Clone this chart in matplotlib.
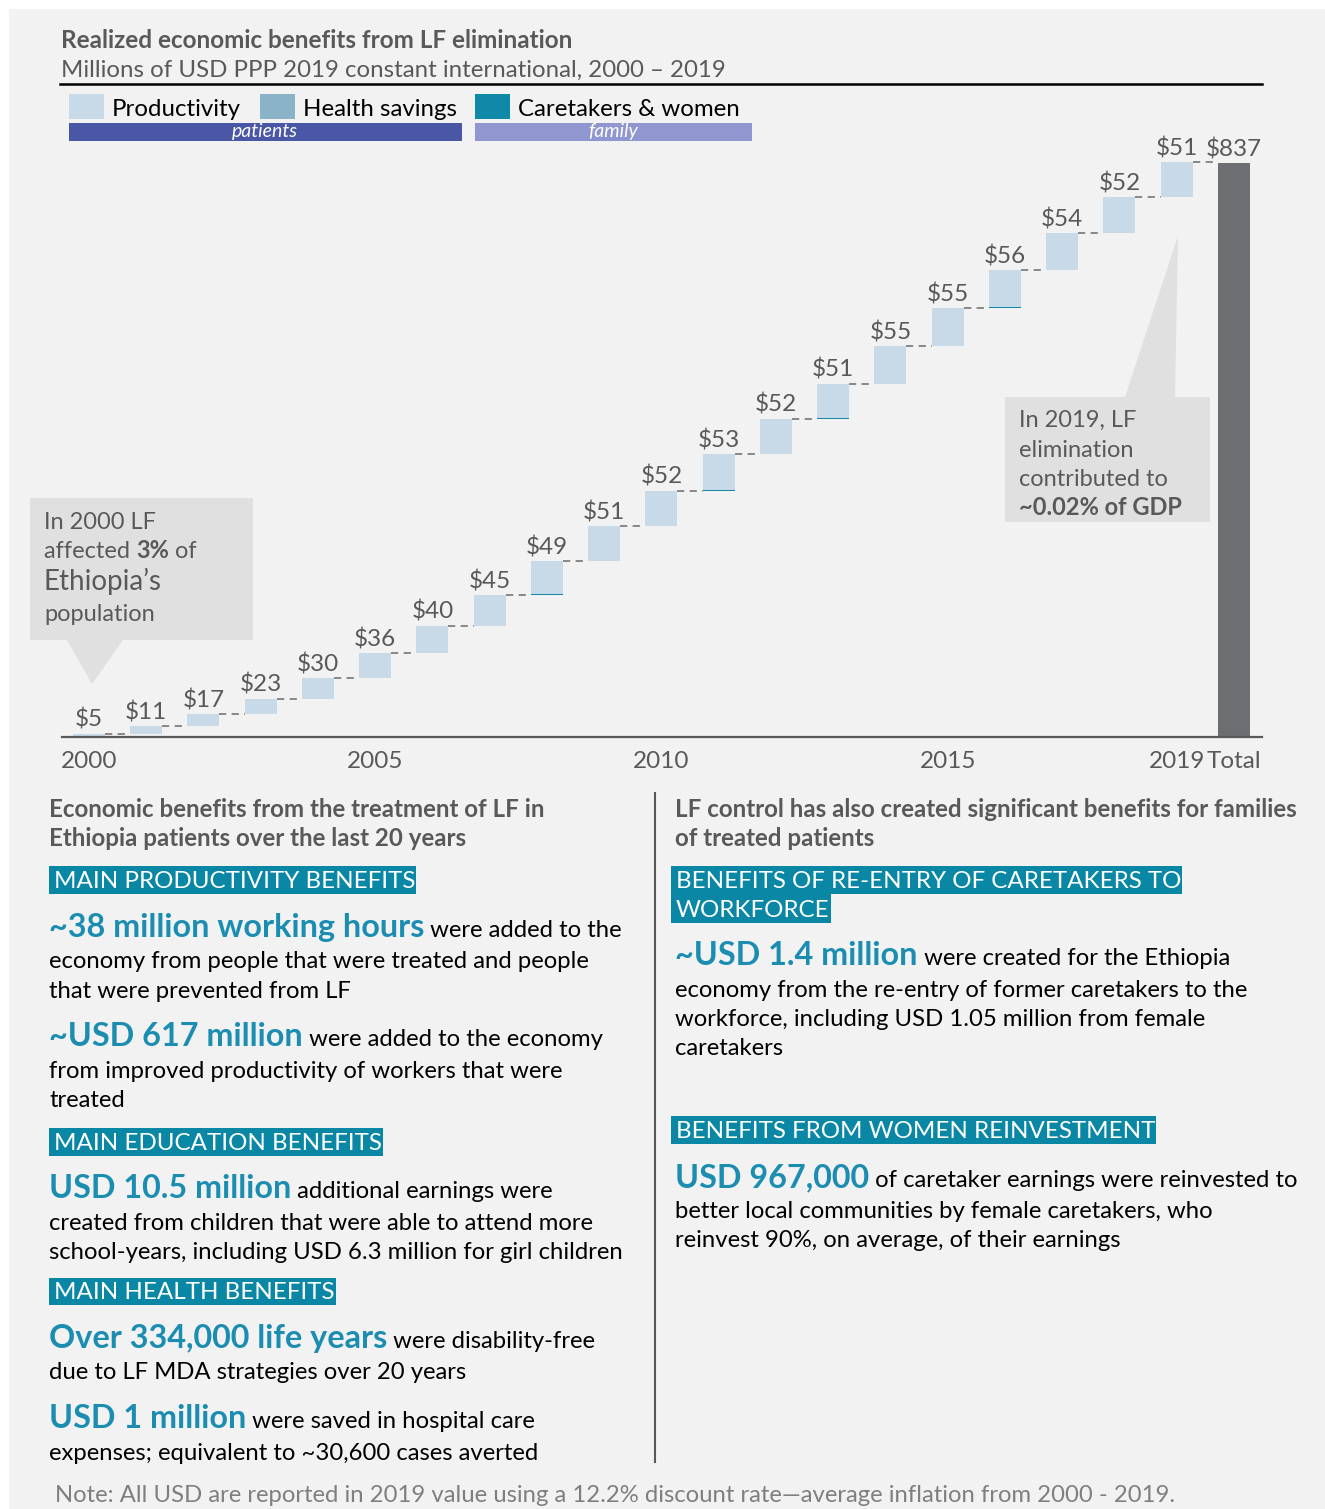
import matplotlib
matplotlib.use("Agg")
import matplotlib.pyplot as plt
from matplotlib.patches import Rectangle, Polygon
import numpy as np

# ---------------- data ----------------
years = ['2000', '2001', '2002', '2003', '2004', '2005', '2006', '2007', '2008', '2009',
         '2010', '2011', '2012', '2013', '2014', '2015', '2016', '2017', '2018', '2019']
annual_totals = [5, 11, 17, 23, 30, 36, 40, 45, 49, 51, 52, 53, 52, 51, 55, 55, 56, 54, 52, 51]
caretakers_women = [0, 0, 0, 0, 0, 0, 0, 0, 1.5, 0, 0, 1.5, 0, 1.5, 0, 0, 1.5, 0, 0, 0]
health_savings = [0] * 20
grand_total = 837
tick_positions = [0, 5, 10, 15, 19, 20]
tick_labels = ['2000', '2005', '2010', '2015', '2019', 'Total']

productivity = [t - h - c for t, h, c in zip(annual_totals, health_savings, caretakers_women)]

# ---------------- style ----------------
W, H = 1325, 1509
DPI = 100
BG = '#f2f2f2'
GREY = '#595959'
TEAL = '#0b87a6'
BIG = '#1b8db1'
C_PROD = '#c8dae8'
C_HEALTH = '#8bb3c8'
C_CARE = '#1089a8'
C_TOTAL = '#6d6e71'
FONT = ['Lato', 'DejaVu Sans']
plt.rcParams['font.family'] = FONT

fig = plt.figure(figsize=(W / DPI, H / DPI), dpi=DPI, facecolor='white')

# overlay axes in pixel coordinates (behind chart)
ov = fig.add_axes([0, 0, 1, 1], zorder=0)
ov.set_xlim(0, W)
ov.set_ylim(H, 0)
ov.axis('off')
ov.add_patch(Rectangle((9, 9), W - 9, H - 9, facecolor=BG, edgecolor='none', zorder=0))

# ---------------- chart axes ----------------
base_px, top_px = 737, 150
left_px, right_px = 62, 1262
scale = 574 / 837.0
ax = fig.add_axes([left_px / W, (H - base_px) / H, (right_px - left_px) / W, (base_px - top_px) / H], zorder=2)
ax.set_facecolor('none')
ax.set_xlim(-0.47, 20.49)
ax.set_ylim(0, (base_px - top_px) / scale)

bw = 0.56
x = np.arange(len(years))
bottoms = np.concatenate([[0], np.cumsum(annual_totals)[:-1]])
b = bottoms.copy().astype(float)
ax.bar(x, caretakers_women, bw, bottom=b, color=C_CARE, linewidth=0)
b = b + np.array(caretakers_women)
ax.bar(x, health_savings, bw, bottom=b, color=C_HEALTH, linewidth=0)
b = b + np.array(health_savings)
ax.bar(x, productivity, bw, bottom=b, color=C_PROD, linewidth=0)
ax.bar([20], [grand_total], bw, color=C_TOTAL, linewidth=0)

tops = np.cumsum(annual_totals)
for i in range(len(years)):
    x0 = i + bw / 2
    x1 = i + 1 - bw / 2
    ax.plot([x0, x1], [tops[i], tops[i]], color='#7f7f7f', lw=1.3, dashes=(4, 3))
    ax.annotate(f'${annual_totals[i]}', (i, tops[i]), xytext=(0, 5), textcoords='offset points',
                ha='center', va='baseline', fontsize=17.5, color=GREY)
ax.annotate(f'${grand_total}', (20, grand_total), xytext=(0, 5), textcoords='offset points',
            ha='center', va='baseline', fontsize=17.5, color=GREY)

for s in ['top', 'right', 'left']:
    ax.spines[s].set_visible(False)
ax.spines['bottom'].set_color(GREY)
ax.spines['bottom'].set_linewidth(1.6)
ax.set_yticks([])
ax.set_xticks(tick_positions)
ax.set_xticklabels(tick_labels)
ax.tick_params(axis='x', length=0, pad=10, labelsize=17.5, labelcolor=GREY)

# ---------------- header ----------------
ov.text(61, 48, 'Realized economic benefits from LF elimination', fontsize=17.5, fontweight='bold',
        color=GREY, va='baseline')
ov.text(61, 77, 'Millions of USD PPP 2019 constant international, 2000 \u2013 2019', fontsize=17.3,
        color=GREY, va='baseline')
ov.plot([60, 1262], [84, 84], color='black', lw=1.8)

# legend
legend_items = [(69, C_PROD, 'Productivity'), (260, C_HEALTH, 'Health savings'), (475, C_CARE, 'Caretakers & women')]
for lx, col, lab in legend_items:
    ov.add_patch(Rectangle((lx, 94), 35, 25, facecolor=col, edgecolor='none'))
    ov.text(lx + 43, 116, lab, fontsize=17.3, color='black', va='baseline')
ov.add_patch(Rectangle((69, 123), 393, 18, facecolor='#4a56a6', edgecolor='none'))
ov.text(265, 132, 'patients', fontsize=14, style='italic', color='white', ha='center', va='center')
ov.add_patch(Rectangle((475, 123), 277, 18, facecolor='#8f96d0', edgecolor='none'))
ov.text(613, 132, 'family', fontsize=14, style='italic', color='white', ha='center', va='center')

# ---------------- callouts ----------------
CALL = '#e0e0e0'
ov.add_patch(Polygon([(30, 498), (253, 498), (253, 640), (123, 640), (92, 684), (67, 640), (30, 640)],
                     closed=True, facecolor=CALL, edgecolor='none', zorder=1))
ov.add_patch(Polygon([(1005, 397), (1125, 397), (1178, 236), (1175, 397), (1210, 397), (1210, 522), (1005, 522)],
                     closed=True, facecolor=CALL, edgecolor='none', zorder=1))

fig.canvas.draw()
renderer = fig.canvas.get_renderer()
inv = ov.transData.inverted()


def right_edge(t):
    bb = t.get_window_extent(renderer)
    return inv.transform((bb.x1, bb.y0))[0]


def runs(x0, y, parts, **common):
    """parts: list of (text, kwargs)"""
    cx = x0
    for s, kw in parts:
        kk = dict(common)
        kk.update(kw)
        t = ov.text(cx, y, s, va='baseline', zorder=3, **kk)
        cx = right_edge(t)
    return cx


CS = 17
runs(44, 529, [('In 2000 LF', {})], fontsize=CS, color=GREY)
runs(44, 558, [('affected ', {}), ('3%', {'fontweight': 'bold'}), (' of', {})], fontsize=CS, color=GREY)
runs(44, 590, [('Ethiopia\u2019s', {})], fontsize=20, color=GREY)
runs(44, 621, [('population', {})], fontsize=CS, color=GREY)

runs(1019, 427, [('In 2019, LF', {})], fontsize=CS, color=GREY)
runs(1019, 457, [('elimination', {})], fontsize=CS, color=GREY)
runs(1019, 486, [('contributed to', {})], fontsize=CS, color=GREY)
runs(1019, 515, [('~0.02% of GDP', {'fontweight': 'bold'})], fontsize=CS, color=GREY)

# ---------------- lower section ----------------
ov.plot([655, 655], [793, 1462], color=GREY, lw=1.5)

BODY = 17.2
BIGS = 23.3
HEAD = 17.4
BOX = 17.4


def heading_box(x0, y_top, y_bot, s):
    t = ov.text(x0 + 5, y_bot - 6, s, fontsize=BOX, color='white', va='baseline', zorder=3)
    xr = right_edge(t)
    ov.add_patch(Rectangle((x0, y_top), xr + 1 - x0, y_bot - y_top, facecolor=TEAL, edgecolor='none', zorder=2))


def lead_line(x0, y, big, rest):
    runs(x0, y, [(big, {'fontsize': BIGS, 'fontweight': 'bold', 'color': BIG}),
                 (' ' + rest, {'fontsize': BODY, 'color': 'black'})])


def body(x0, y, s):
    ov.text(x0, y, s, fontsize=BODY, color='black', va='baseline', zorder=3)


LX = 49
ov.text(LX, 817, 'Economic benefits from the treatment of LF in', fontsize=HEAD, fontweight='bold', color=GREY, va='baseline')
ov.text(LX, 846, 'Ethiopia patients over the last 20 years', fontsize=HEAD, fontweight='bold', color=GREY, va='baseline')
heading_box(LX, 866, 894, 'MAIN PRODUCTIVITY BENEFITS')
lead_line(LX, 937, '~38 million working hours', 'were added to the')
body(LX, 968, 'economy from people that were treated and people')
body(LX, 998, 'that were prevented from LF')
lead_line(LX, 1046, '~USD 617 million', 'were added to the economy')
body(LX, 1078, 'from improved productivity of workers that were')
body(LX, 1107, 'treated')
heading_box(LX, 1128, 1156, 'MAIN EDUCATION BENEFITS')
lead_line(LX, 1198, 'USD 10.5 million', 'additional earnings were')
body(LX, 1230, 'created from children that were able to attend more')
body(LX, 1259, 'school-years, including USD 6.3 million for girl children')
heading_box(LX, 1278, 1305, 'MAIN HEALTH BENEFITS')
lead_line(LX, 1348, 'Over 334,000 life years', 'were disability-free')
body(LX, 1379, 'due to LF MDA strategies over 20 years')
lead_line(LX, 1428, 'USD 1 million', 'were saved in hospital care')
body(LX, 1460, 'expenses; equivalent to ~30,600 cases averted')

RX = 675
ov.text(RX, 817, 'LF control has also created significant benefits for families', fontsize=HEAD, fontweight='bold', color=GREY, va='baseline')
ov.text(RX, 846, 'of treated patients', fontsize=HEAD, fontweight='bold', color=GREY, va='baseline')
heading_box(RX - 4, 866, 894, 'BENEFITS OF RE-ENTRY OF CARETAKERS TO')
heading_box(RX - 4, 894, 923, 'WORKFORCE')
lead_line(RX, 965, '~USD 1.4 million', 'were created for the Ethiopia')
body(RX, 997, 'economy from the re-entry of former caretakers to the')
body(RX, 1026, 'workforce, including USD 1.05 million from female')
body(RX, 1055, 'caretakers')
heading_box(RX - 4, 1116, 1144, 'BENEFITS FROM WOMEN REINVESTMENT')
lead_line(RX, 1187, 'USD 967,000', 'of caretaker earnings were reinvested to')
body(RX, 1218, 'better local communities by female caretakers, who')
body(RX, 1247, 'reinvest 90%, on average, of their earnings')

ov.text(55, 1502, 'Note: All USD are reported in 2019 value using a 12.2% discount rate\u2014average inflation from 2000 - 2019.',
        fontsize=17.2, color='#7f7f7f', va='baseline')

fig.savefig('out.png', dpi=DPI, facecolor='white')
